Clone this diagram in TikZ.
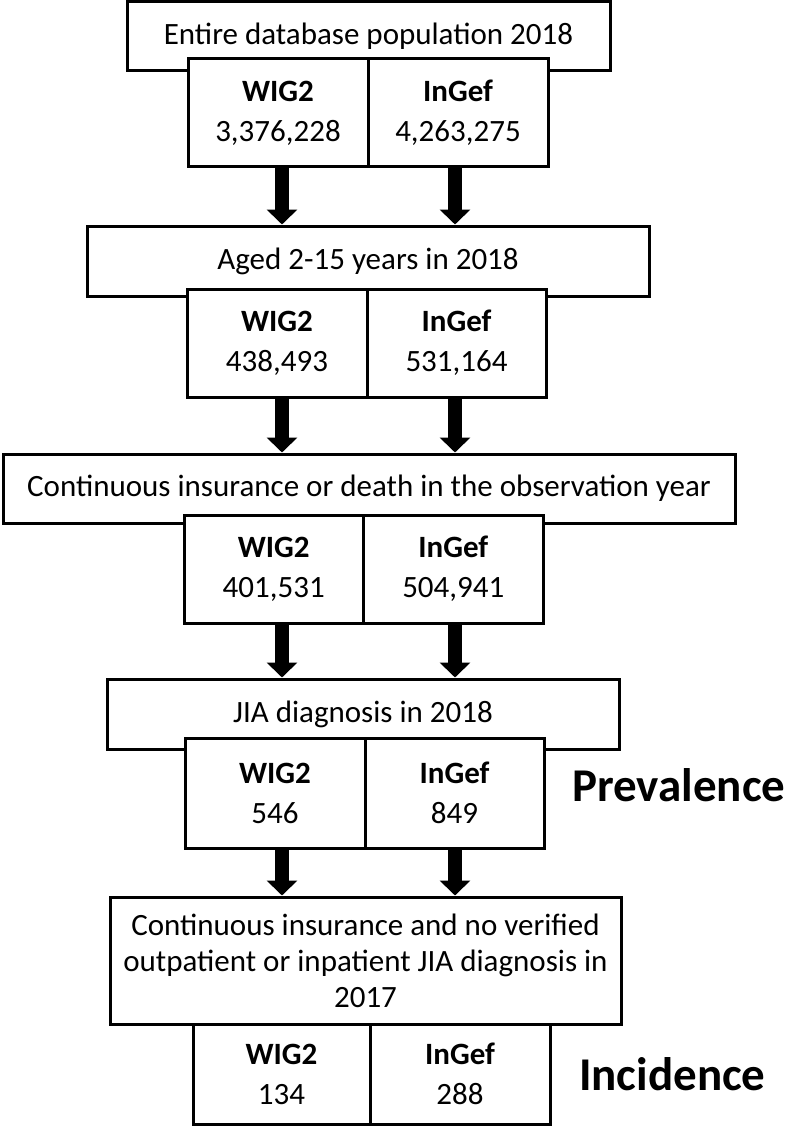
\documentclass[tikz,border=0pt]{standalone}
\usepackage{fontspec}
\setmainfont{Carlito}
\usetikzlibrary{arrows.meta}
\begin{document}
\begin{tikzpicture}[x=1pt,y=-1pt,
  box/.style={draw,line width=3pt,fill=white,inner sep=0pt,align=center,font=\fontsize{31}{36}\selectfont},
  half/.style={box,font=\fontsize{31}{40}\selectfont},
  fat/.style={line width=14pt,-{Triangle[width=30pt,length=15pt]}},
  side/.style={font=\fontsize{47}{50}\selectfont\bfseries,inner sep=0pt,anchor=west}]
\useasboundingbox (0,0) rectangle (787,1126);
\coordinate (aL) at (282,0);
\coordinate (aR) at (455,0);
% stage 1
\node[box,minimum width=483pt,minimum height=69.5pt] (b1) at (368.5,36.25) {Entire database population 2018};
\node[half,minimum width=180pt,minimum height=108pt] (w1) at (278,113) {\textbf{WIG2}\\3,376,228};
\node[half,minimum width=180pt,minimum height=108pt] (i1) at (458,113) {\textbf{InGef}\\4,263,275};
% stage 2
\node[box,minimum width=562pt,minimum height=70pt] (b2) at (368,261) {Aged 2-15 years in 2018};
\node[half,minimum width=180pt,minimum height=108pt] (w2) at (277,343) {\textbf{WIG2}\\438,493};
\node[half,minimum width=179pt,minimum height=108pt] (i2) at (456.5,343) {\textbf{InGef}\\531,164};
% stage 3
\node[box,minimum width=732pt,minimum height=69pt] (b3) at (369,488.5) {Continuous insurance or death in the observation year};
\node[half,minimum width=179.5pt,minimum height=108pt] (w3) at (273.75,569) {\textbf{WIG2}\\401,531};
\node[half,minimum width=179.5pt,minimum height=108pt] (i3) at (453.25,569) {\textbf{InGef}\\504,941};
% stage 4
\node[box,minimum width=512pt,minimum height=70pt] (b4) at (363,714) {JIA diagnosis in 2018};
\node[half,minimum width=180pt,minimum height=110pt] (w4) at (275,793) {\textbf{WIG2}\\546};
\node[half,minimum width=179pt,minimum height=110pt] (i4) at (454.5,793) {\textbf{InGef}\\849};
\node[side] (prev) at (572,785) {Prevalence};
% stage 5
\node[box,minimum width=511pt,minimum height=127pt] (b5) at (365.5,960.5) {Continuous insurance and no verified\\outpatient or inpatient JIA diagnosis in\\2017};
\node[half,minimum width=177pt,minimum height=100pt] (w5) at (281.5,1074) {\textbf{WIG2}\\134};
\node[half,minimum width=180pt,minimum height=100pt] (i5) at (460,1074) {\textbf{InGef}\\288};
\node[side] (inc) at (579,1074) {Incidence};
% arrows
\draw[fat] (w1.south -| aL) -- (b2.north -| aL);
\draw[fat] (i1.south -| aR) -- (b2.north -| aR);
\draw[fat] (w2.south -| aL) -- (b3.north -| aL);
\draw[fat] (i2.south -| aR) -- (b3.north -| aR);
\draw[fat] (w3.south -| aL) -- (b4.north -| aL);
\draw[fat] (i3.south -| aR) -- (b4.north -| aR);
\draw[fat] (w4.south -| aL) -- (b5.north -| aL);
\draw[fat] (i4.south -| aR) -- (b5.north -| aR);
\end{tikzpicture}
\end{document}
